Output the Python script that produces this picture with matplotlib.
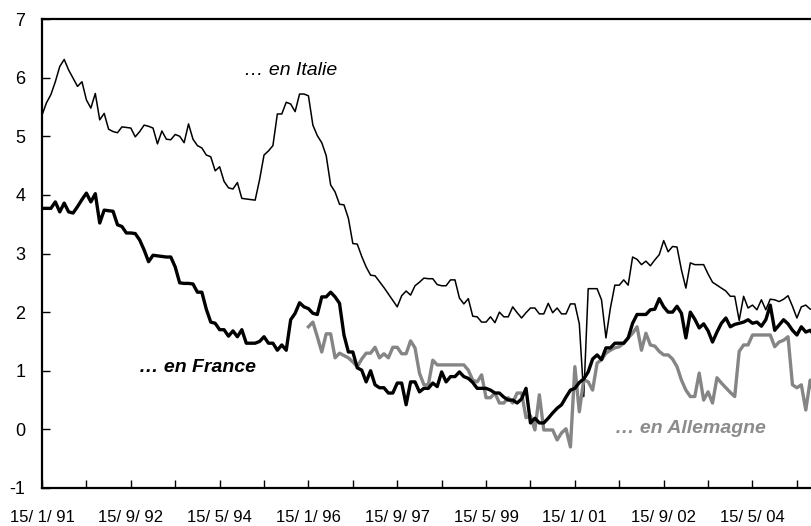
import matplotlib
matplotlib.use("Agg")
import matplotlib.pyplot as plt
import numpy as np

plt.rcParams['font.family'] = ['Liberation Sans', 'DejaVu Sans']
plt.rcParams['axes.unicode_minus'] = False

# monthly values, first month = 15/1/91
italie = [5.36, 5.57, 5.71, 5.93, 6.19, 6.31, 6.13, 5.99, 5.85, 5.93,
          5.62, 5.48, 5.73, 5.28, 5.39, 5.12, 5.08, 5.06, 5.16, 5.15,
          5.14, 4.99, 5.08, 5.19, 5.17, 5.14, 4.87, 5.09, 4.95, 4.94,
          5.03, 5.00, 4.89, 5.21, 4.95, 4.84, 4.80, 4.68, 4.65, 4.41,
          4.48, 4.23, 4.12, 4.10, 4.21, 3.94, 3.93, 3.92, 3.91, 4.26,
          4.68, 4.75, 4.84, 5.38, 5.38, 5.58, 5.55, 5.42, 5.72, 5.72,
          5.69, 5.19, 5.01, 4.89, 4.67, 4.17, 4.05, 3.84, 3.83, 3.60,
          3.17, 3.16, 2.95, 2.77, 2.63, 2.62, 2.52, 2.42, 2.31, 2.20,
          2.09, 2.28, 2.36, 2.29, 2.45, 2.51, 2.58, 2.57, 2.57, 2.47,
          2.45, 2.45, 2.55, 2.55, 2.24, 2.14, 2.23, 1.93, 1.92, 1.83,
          1.83, 1.92, 1.82, 2.00, 1.92, 1.92, 2.09, 1.99, 1.90, 1.99,
          2.07, 2.07, 1.97, 1.97, 2.15, 1.99, 2.07, 1.97, 1.97, 2.14,
          2.14, 1.80, 0.56, 2.40, 2.40, 2.40, 2.21, 1.56, 2.07, 2.46,
          2.46, 2.55, 2.46, 2.94, 2.90, 2.81, 2.87, 2.79, 2.89, 2.98,
          3.22, 3.03, 3.12, 3.11, 2.72, 2.41, 2.84, 2.81, 2.81, 2.81,
          2.65, 2.51, 2.46, 2.41, 2.36, 2.27, 2.27, 1.86, 2.27, 2.07,
          2.12, 2.04, 2.21, 2.04, 2.22, 2.21, 2.18, 2.22, 2.28, 2.10,
          1.90, 2.09, 2.12, 2.05, 2.05]

france = [3.77, 3.77, 3.77, 3.88, 3.71, 3.86, 3.71, 3.69, 3.80, 3.92,
          4.03, 3.88, 4.02, 3.52, 3.74, 3.73, 3.72, 3.49, 3.46, 3.35,
          3.35, 3.34, 3.23, 3.06, 2.86, 2.97, 2.96, 2.95, 2.94, 2.94,
          2.77, 2.50, 2.49, 2.49, 2.48, 2.34, 2.34, 2.05, 1.83, 1.81,
          1.70, 1.70, 1.59, 1.68, 1.58, 1.70, 1.47, 1.47, 1.47, 1.50,
          1.58, 1.47, 1.47, 1.35, 1.44, 1.35, 1.87, 1.98, 2.16, 2.09,
          2.06, 1.98, 1.96, 2.26, 2.26, 2.34, 2.26, 2.15, 1.61, 1.32,
          1.32, 1.05, 1.01, 0.81, 1.00, 0.76, 0.71, 0.71, 0.62, 0.62,
          0.79, 0.79, 0.42, 0.81, 0.81, 0.64, 0.70, 0.70, 0.79, 0.73,
          0.98, 0.81, 0.90, 0.90, 0.98, 0.90, 0.87, 0.80, 0.70, 0.70,
          0.70, 0.67, 0.62, 0.62, 0.55, 0.50, 0.50, 0.45, 0.52, 0.70,
          0.11, 0.19, 0.11, 0.11, 0.19, 0.28, 0.36, 0.42, 0.55, 0.67,
          0.70, 0.80, 0.86, 0.98, 1.20, 1.27, 1.19, 1.39, 1.39, 1.47,
          1.47, 1.47, 1.56, 1.81, 1.96, 1.96, 1.96, 2.04, 2.05, 2.23,
          2.09, 2.00, 2.00, 2.10, 1.98, 1.56, 2.00, 1.88, 1.73, 1.80,
          1.68, 1.49, 1.66, 1.81, 1.90, 1.75, 1.79, 1.81, 1.83, 1.87,
          1.81, 1.83, 1.76, 1.87, 2.12, 1.69, 1.78, 1.87, 1.80, 1.69,
          1.61, 1.75, 1.66, 1.69, 1.60]

# Germany starts at 15/1/96 (month 60)
allemagne_debut = 60
allemagne = [1.75, 1.83, 1.58, 1.32, 1.63, 1.63, 1.22, 1.30, 1.26, 1.22,
             1.15, 1.07, 1.20, 1.30, 1.30, 1.40, 1.22, 1.29, 1.22, 1.40,
             1.40, 1.29, 1.29, 1.51, 1.39, 0.96, 0.76, 0.76, 1.18, 1.10,
             1.10, 1.10, 1.10, 1.10, 1.10, 1.10, 1.01, 0.84, 0.81, 0.93,
             0.54, 0.54, 0.62, 0.45, 0.45, 0.54, 0.45, 0.62, 0.62, 0.20,
             0.23, -0.01, 0.59, -0.01, -0.01, -0.01, -0.18, -0.06, 0.01, -0.30,
             1.07, 0.30, 0.85, 0.81, 0.67, 1.13, 1.19, 1.30, 1.35, 1.39,
             1.41, 1.47, 1.56, 1.64, 1.75, 1.35, 1.64, 1.44, 1.42, 1.33,
             1.27, 1.27, 1.20, 1.07, 0.84, 0.67, 0.56, 0.56, 0.96, 0.50,
             0.64, 0.45, 0.88, 0.79, 0.71, 0.63, 0.56, 1.33, 1.44, 1.44,
             1.61, 1.61, 1.61, 1.61, 1.61, 1.41, 1.49, 1.52, 1.58, 0.76,
             0.71, 0.76, 0.33, 0.84, 0.55]

tick_labels = ["15/ 1/ 91", "15/ 9/ 92", "15/ 5/ 94", "15/ 1/ 96", "15/ 9/ 97",
               "15/ 5/ 99", "15/ 1/ 01", "15/ 9/ 02", "15/ 5/ 04"]

fig = plt.figure(figsize=(8.12, 5.26), dpi=100)
ax = fig.add_axes([42/812, 38/526, 1 - 42/812, 469/526])

m_it = np.arange(len(italie))
m_fr = np.arange(len(france))
m_al = np.arange(len(allemagne)) + allemagne_debut

ax.plot(m_it, italie, color="black", lw=1.1, zorder=2)
ax.plot(m_al, allemagne, color="#858585", lw=2.4, zorder=3)
ax.plot(m_fr, france, color="black", lw=2.4, zorder=4)

ax.set_xlim(0, 173.4)
ax.set_ylim(-1, 7)

ax.set_xticks(np.arange(0, 180, 10))
ax.set_xticklabels([tick_labels[i // 2] if i % 2 == 0 else "" for i in range(18)])
ax.set_yticks(range(-1, 8))

ax.tick_params(axis="x", direction="in", length=6, width=1, pad=16, labelsize=12)
ax.tick_params(axis="y", direction="in", length=6, width=1, pad=12, labelsize=13)

for s in ["left", "top", "bottom"]:
    ax.spines[s].set_linewidth(1.6)
ax.spines["right"].set_visible(False)

ax.text(56, 6.13, "… en Italie", style="italic", fontsize=14, ha="center", va="center")
ax.text(35, 1.05, "… en France", style="italic", weight="bold", fontsize=14,
        ha="center", va="center")
ax.text(146, 0.02, "… en Allemagne", style="italic", weight="bold", fontsize=14,
        color="#8c8c8c", ha="center", va="center")

plt.savefig("out.png", dpi=100)
